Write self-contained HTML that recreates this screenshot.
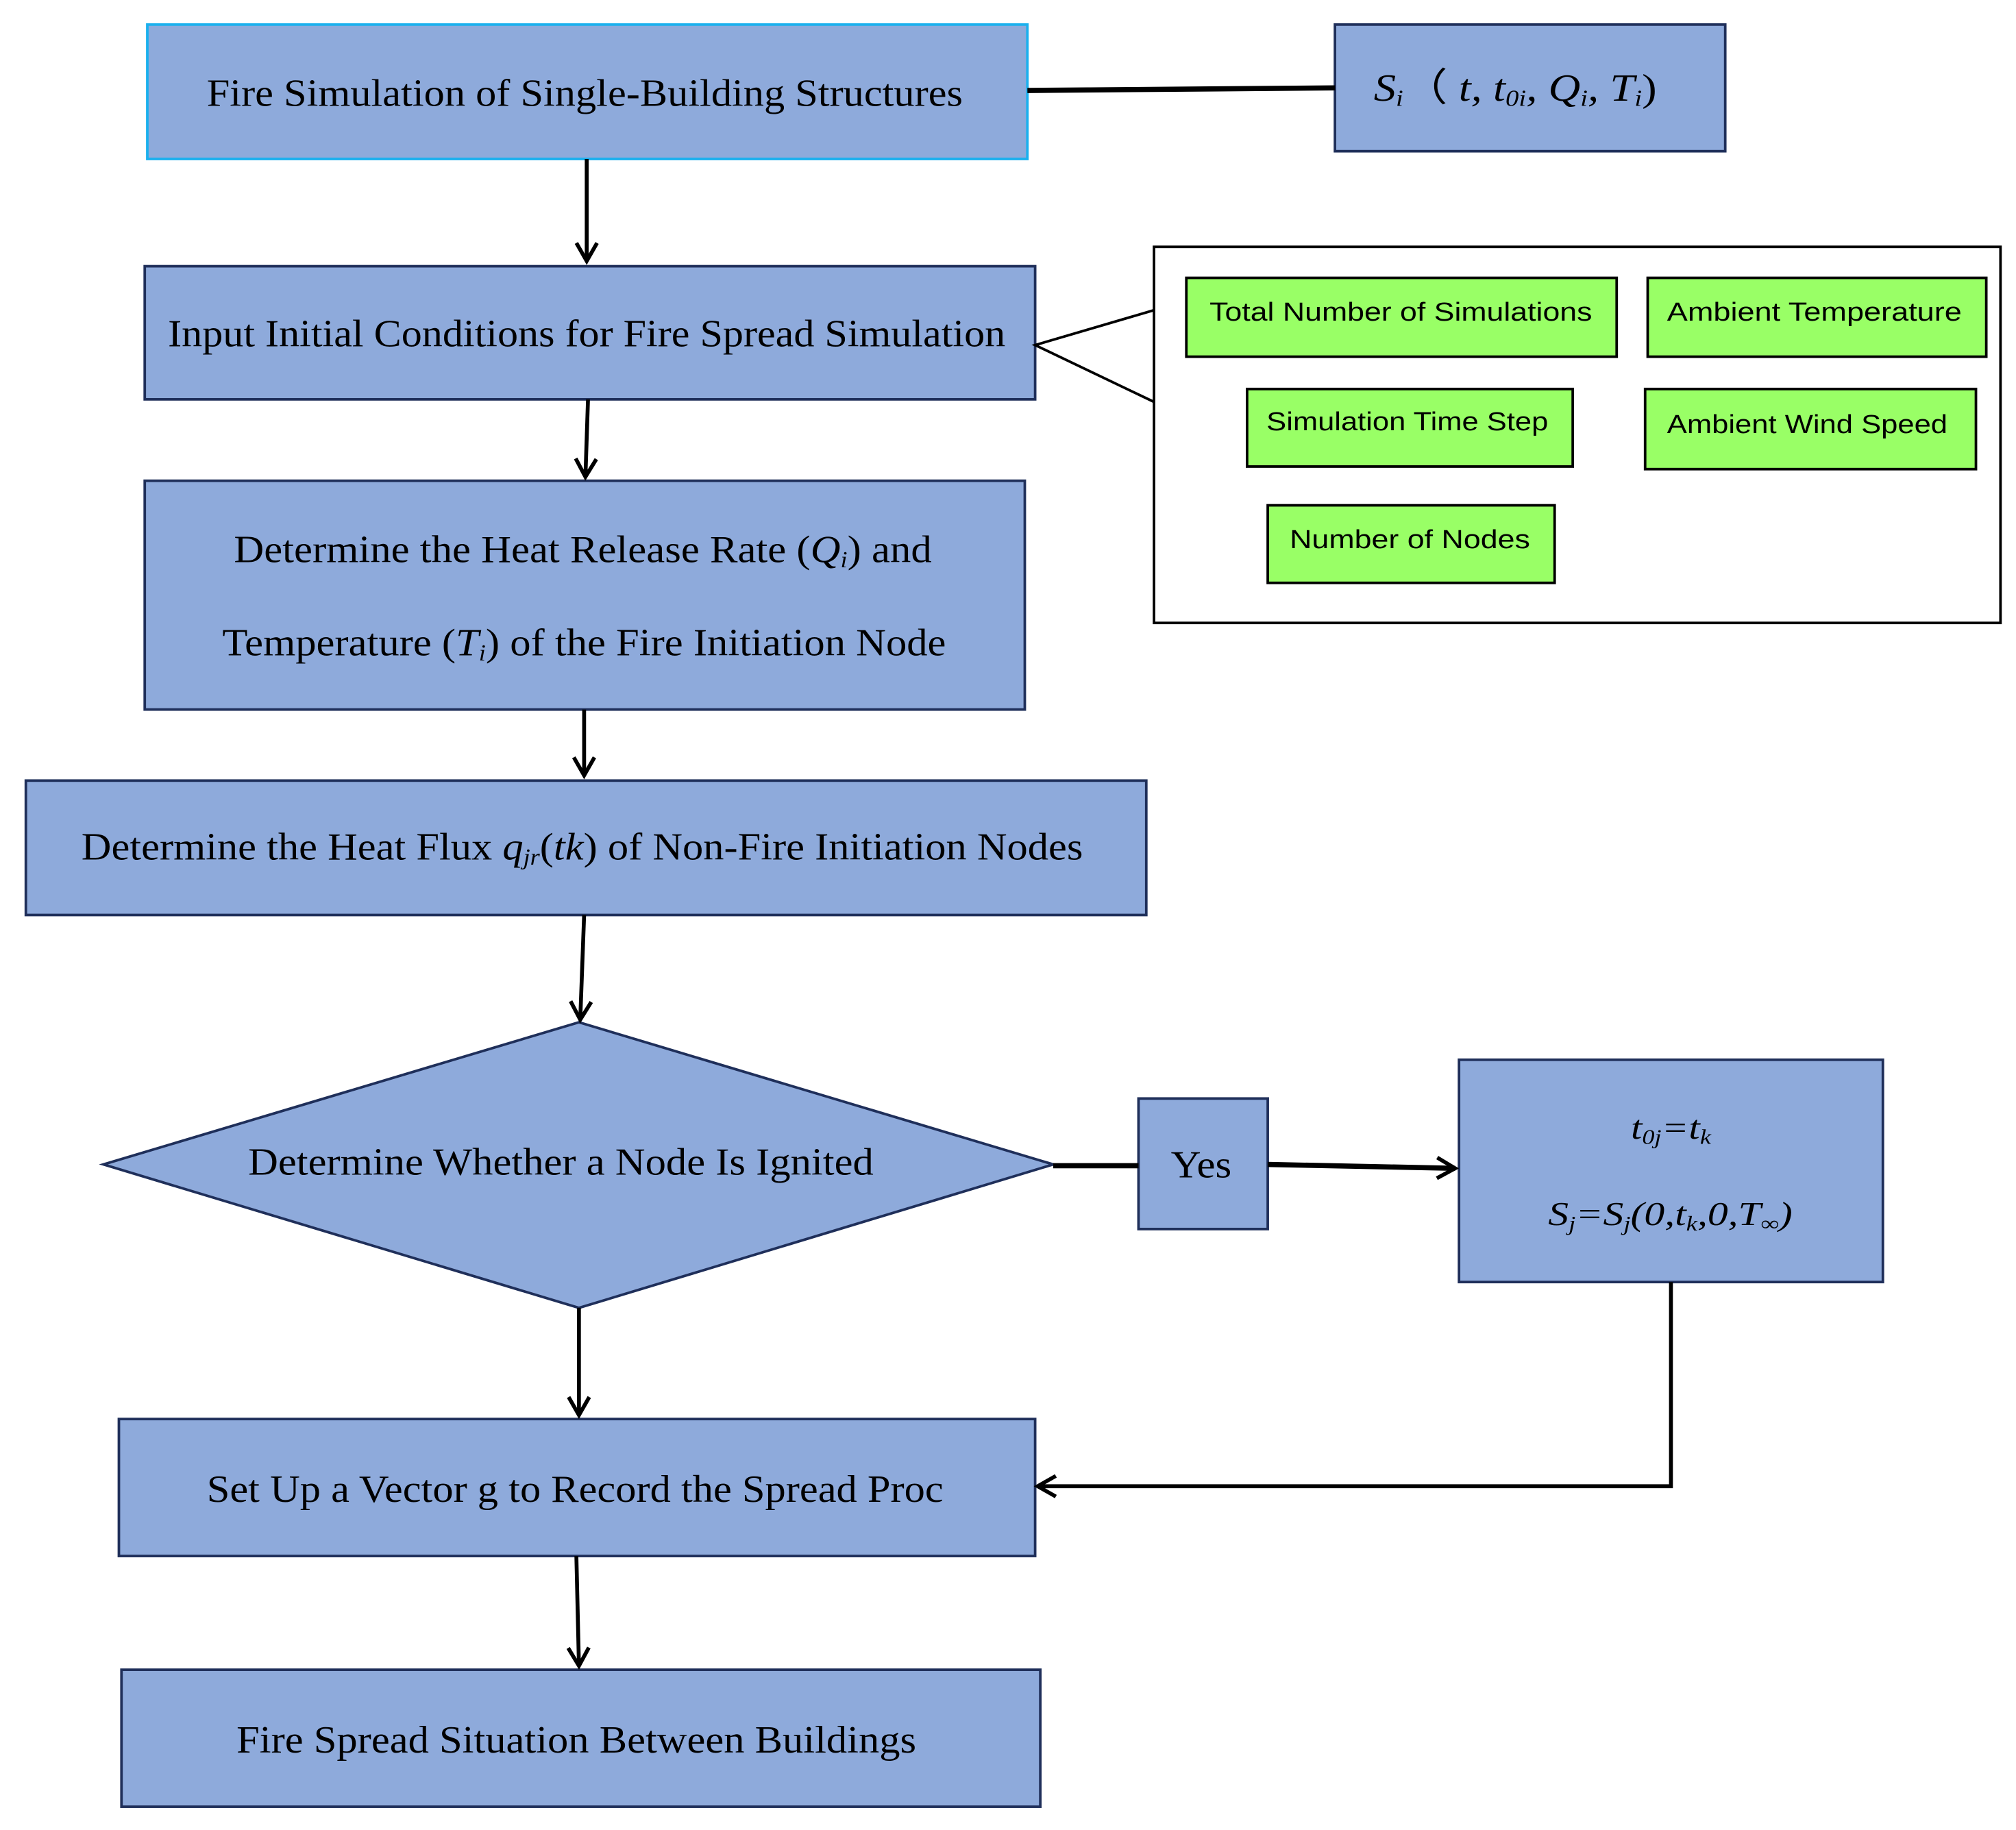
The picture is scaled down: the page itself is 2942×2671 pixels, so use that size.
<!DOCTYPE html>
<html><head><meta charset="utf-8"><style>html,body{margin:0;padding:0;background:#fff}svg{display:block}</style></head>
<body>
<svg width="2942" height="2671" viewBox="0 0 1560 1416" preserveAspectRatio="none" xmlns="http://www.w3.org/2000/svg">
<defs>
<marker id="a" markerWidth="20" markerHeight="20" refX="17" refY="10" orient="auto" markerUnits="userSpaceOnUse" viewBox="0 0 20 20">
<polyline points="3,2 17,10 3,18" fill="none" stroke="#000" stroke-width="3"/>
</marker>
</defs>
<g fill="#8eaadb" stroke="#1f2f5a" stroke-width="2">
<rect x="114" y="19" width="681" height="104" stroke="#1ab0ee"/>
<rect x="1033" y="19" width="302" height="98"/>
<rect x="112" y="206" width="689" height="103"/>
<rect x="112" y="372" width="681" height="177"/>
<rect x="20" y="604" width="867" height="104"/>
<polygon points="80,901 448,791 815,901 448,1012"/>
<rect x="881" y="850" width="100" height="101"/>
<rect x="1129" y="820" width="328" height="172"/>
<rect x="92" y="1098" width="709" height="106"/>
<rect x="94" y="1292" width="711" height="106"/>
</g>
<rect x="893" y="191" width="655" height="291" fill="#fff" stroke="#000" stroke-width="2"/>
<g fill="#99ff66" stroke="#000" stroke-width="2">
<rect x="918" y="215" width="333" height="61"/>
<rect x="1275" y="215" width="262" height="61"/>
<rect x="965" y="301" width="252" height="60"/>
<rect x="1273" y="301" width="256" height="62"/>
<rect x="981" y="391" width="222" height="60"/>
</g>
<g stroke="#000" fill="none">
<line x1="795" y1="70" x2="1033" y2="68" stroke-width="4"/>
<polyline points="893,240 801,267 893,311" stroke-width="2"/>
<line x1="454" y1="123" x2="454" y2="202" stroke-width="3" marker-end="url(#a)"/>
<line x1="455" y1="309" x2="453" y2="369" stroke-width="3" marker-end="url(#a)"/>
<line x1="452" y1="549" x2="452" y2="600" stroke-width="3" marker-end="url(#a)"/>
<line x1="452" y1="708" x2="449" y2="789" stroke-width="3" marker-end="url(#a)"/>
<line x1="815" y1="902" x2="881" y2="902" stroke-width="4"/>
<line x1="981" y1="901" x2="1126" y2="904" stroke-width="4" marker-end="url(#a)"/>
<polyline points="1293,992 1293,1150 803,1150" stroke-width="3" marker-end="url(#a)"/>
<line x1="448" y1="1012" x2="448" y2="1095" stroke-width="3" marker-end="url(#a)"/>
<line x1="446" y1="1204" x2="448" y2="1289" stroke-width="3" marker-end="url(#a)"/>
</g>
<g font-family="Liberation Serif, serif" font-size="30" fill="#000">
<text x="160" y="82" textLength="585" lengthAdjust="spacingAndGlyphs">Fire Simulation of Single-Building Structures</text>
<text x="1063" y="78" textLength="219" lengthAdjust="spacingAndGlyphs" font-style="italic">S<tspan font-size="18" dy="4">i</tspan><tspan dy="-4" font-style="normal">（ </tspan>t, t<tspan font-size="18" dy="4">0i</tspan><tspan dy="-4">, Q</tspan><tspan font-size="18" dy="4">i</tspan><tspan dy="-4">, T</tspan><tspan font-size="18" dy="4">i</tspan><tspan dy="-4" font-style="normal">)</tspan></text>
<text x="130" y="268" textLength="648" lengthAdjust="spacingAndGlyphs">Input Initial Conditions for Fire Spread Simulation</text>
<text x="181" y="435" textLength="540" lengthAdjust="spacingAndGlyphs">Determine the Heat Release Rate (<tspan font-style="italic">Q</tspan><tspan font-size="18" dy="4" font-style="italic">i</tspan><tspan dy="-4">) and</tspan></text>
<text x="172" y="507" textLength="560" lengthAdjust="spacingAndGlyphs">Temperature (<tspan font-style="italic">T</tspan><tspan font-size="18" dy="4" font-style="italic">i</tspan><tspan dy="-4">) of the Fire Initiation Node</tspan></text>
<text x="63" y="665" textLength="775" lengthAdjust="spacingAndGlyphs">Determine the Heat Flux <tspan font-style="italic">q</tspan><tspan font-size="18" dy="4" font-style="italic">jr</tspan><tspan dy="-4">(<tspan font-style="italic">tk</tspan>) of Non-Fire Initiation Nodes</tspan></text>
<text x="192" y="909" textLength="484" lengthAdjust="spacingAndGlyphs">Determine Whether a Node Is Ignited</text>
<text x="906" y="911" textLength="47" lengthAdjust="spacingAndGlyphs">Yes</text>
<text x="1262" y="881" font-style="italic" font-size="26" textLength="62" lengthAdjust="spacingAndGlyphs">t<tspan font-size="16" dy="4">0j</tspan><tspan dy="-4">=t</tspan><tspan font-size="16" dy="4">k</tspan></text>
<text x="1198" y="948" font-style="italic" font-size="26" textLength="189" lengthAdjust="spacingAndGlyphs">S<tspan font-size="16" dy="4">j</tspan><tspan dy="-4">=S</tspan><tspan font-size="16" dy="4">j</tspan><tspan dy="-4">(0,t</tspan><tspan font-size="16" dy="4">k</tspan><tspan dy="-4">,0,T</tspan><tspan font-size="16" dy="4">∞</tspan><tspan dy="-4">)</tspan></text>
<text x="160" y="1162" textLength="570" lengthAdjust="spacingAndGlyphs">Set Up a Vector g to Record the Spread Proc</text>
<text x="183" y="1356" textLength="526" lengthAdjust="spacingAndGlyphs">Fire Spread Situation Between Buildings</text>
</g>
<g font-family="Liberation Sans, sans-serif" font-size="20" fill="#000">
<text x="936" y="248" textLength="296" lengthAdjust="spacingAndGlyphs">Total Number of Simulations</text>
<text x="1290" y="248" textLength="228" lengthAdjust="spacingAndGlyphs">Ambient Temperature</text>
<text x="980" y="333" textLength="218" lengthAdjust="spacingAndGlyphs">Simulation Time Step</text>
<text x="1290" y="335" textLength="217" lengthAdjust="spacingAndGlyphs">Ambient Wind Speed</text>
<text x="998" y="424" textLength="186" lengthAdjust="spacingAndGlyphs">Number of Nodes</text>
</g>
</svg>
</body></html>
